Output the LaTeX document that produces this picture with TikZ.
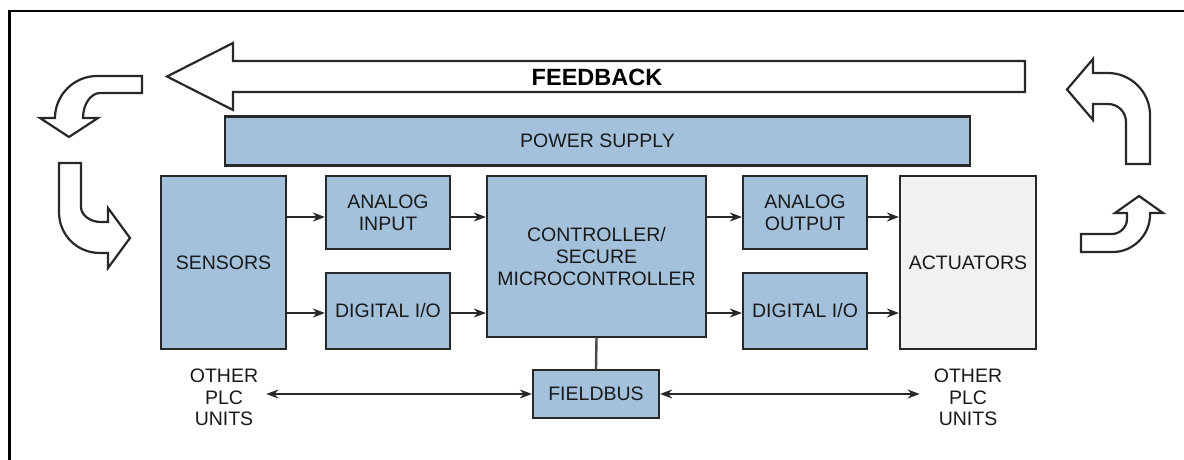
\documentclass[tikz,border=0pt]{standalone}
\usepackage{fontspec}
\setmainfont{Liberation Sans}
\usetikzlibrary{arrows.meta}
\definecolor{boxblue}{RGB}{164,193,219}
\definecolor{boxline}{RGB}{40,40,40}
\definecolor{actfill}{RGB}{241,241,241}
\definecolor{txt}{RGB}{25,25,25}
\tikzset{
  blk/.style={draw=boxline, line width=2.2pt, fill=boxblue, rectangle, inner sep=0pt,
    align=center, text=txt, font=\fontsize{19.5}{21.7}\selectfont},
  lbl/.style={inner sep=0pt, align=center, text=txt, font=\fontsize{19.5}{21.5}\selectfont},
  conn/.style={draw=boxline, line width=2pt, -{Stealth[length=12pt,width=9pt]}},
  conn2/.style={draw=boxline, line width=2pt, {Stealth[length=12pt,width=9pt]}-{Stealth[length=12pt,width=9pt]}},
  bigarrow/.style={draw=boxline, line width=2.2pt, fill=white, line join=miter},
}
\begin{document}
\begin{tikzpicture}[x=1pt,y=-1pt]
\useasboundingbox (0,0) rectangle (1184,460);
% frame
\draw[black, line width=2.6pt] (9.5,460) -- (9.5,11) -- (1184,11);
% feedback arrow
\draw[bigarrow] (1025,61) -- (233,61) -- (233,43) -- (167,76.5) -- (233,110) -- (233,92) -- (1025,92) -- cycle;
\node[font=\fontsize{23.5}{26}\selectfont\bfseries, text=black] (fb) at (597,77) {FEEDBACK};
% left upper bent arrow
\draw[bigarrow] (142,76) -- (97,76) .. controls (74,76) and (55,95) .. (55,118) -- (40,118) -- (69,137) -- (98,118) -- (83,118)
  .. controls (83,104) and (91,93) .. (100,93) -- (142,93) -- cycle;
% left lower bent arrow
\draw[bigarrow] (59,163) -- (81,163) -- (81,207) .. controls (81,215) and (90,222) .. (101,222) -- (108,222) -- (108,208) -- (130,238)
  -- (108,268) -- (108,253) -- (100,253) .. controls (77,253) and (59,235) .. (59,212) -- cycle;
% right upper bent arrow
\draw[bigarrow] (1093,73) -- (1108,73) .. controls (1131,73) and (1150,92) .. (1150,115) -- (1150,164) -- (1126,164) -- (1126,122)
  .. controls (1126,112) and (1118,104) .. (1108,104) -- (1093,104) -- (1093,120) -- (1067,89.5) -- (1093,59) -- cycle;
% right lower bent arrow
\draw[bigarrow] (1081,234) -- (1112,234) .. controls (1120,234) and (1127,227) .. (1127,219) -- (1127,213) -- (1115,213) -- (1139,196)
  -- (1163,213) -- (1150,213) -- (1150,215) .. controls (1150,235) and (1133,252) .. (1113,252) -- (1081,252) -- cycle;
% blocks
\node[blk, minimum width=745pt, minimum height=49pt] (power) at (597.5,141) {POWER SUPPLY};
\node[blk, minimum width=125pt, minimum height=173pt] (sensors) at (223.5,262.5) {SENSORS};
\node[blk, minimum width=124pt, minimum height=73pt] (ain) at (388,212.5) {ANALOG\\INPUT};
\node[blk, minimum width=124pt, minimum height=76pt] (din) at (388,311) {DIGITAL I/O};
\node[blk, minimum width=219pt, minimum height=161pt] (ctrl) at (596.5,256.5) {CONTROLLER/\\SECURE\\MICROCONTROLLER};
\node[blk, minimum width=124pt, minimum height=73pt] (aout) at (805,212.5) {ANALOG\\OUTPUT};
\node[blk, minimum width=124pt, minimum height=76pt] (dout) at (805,311) {DIGITAL I/O};
\node[blk, fill=actfill, minimum width=136pt, minimum height=173pt] (act) at (968,262.5) {ACTUATORS};
\node[blk, minimum width=126pt, minimum height=48pt] (fieldbus) at (596,394) {FIELDBUS};
\node[lbl] (otherL) at (224,397.5) {OTHER\\PLC\\UNITS};
\node[lbl] (otherR) at (968,397.5) {OTHER\\PLC\\UNITS};
% connectors
\coordinate (r1) at (0,217);
\coordinate (r2) at (0,313);
\draw[conn] (sensors.east |- r1) -- (ain.west |- r1);
\draw[conn] (sensors.east |- r2) -- (din.west |- r2);
\draw[conn] (ain.east |- r1) -- (ctrl.west |- r1);
\draw[conn] (din.east |- r2) -- (ctrl.west |- r2);
\draw[conn] (ctrl.east |- r1) -- (aout.west |- r1);
\draw[conn] (ctrl.east |- r2) -- (dout.west |- r2);
\draw[conn] (aout.east |- r1) -- (act.west |- r1);
\draw[conn] (dout.east |- r2) -- (act.west |- r2);
\draw[draw=boxline!85, line width=2.4pt] (ctrl.south) -- (fieldbus.north);
\coordinate (fl) at ([xshift=8pt]otherL.east |- fieldbus);
\coordinate (fr) at ([xshift=-14pt]otherR.west |- fieldbus);
\draw[conn2] (fl) -- (fieldbus.west);
\draw[conn2] (fieldbus.east) -- (fr);
\end{tikzpicture}
\end{document}
